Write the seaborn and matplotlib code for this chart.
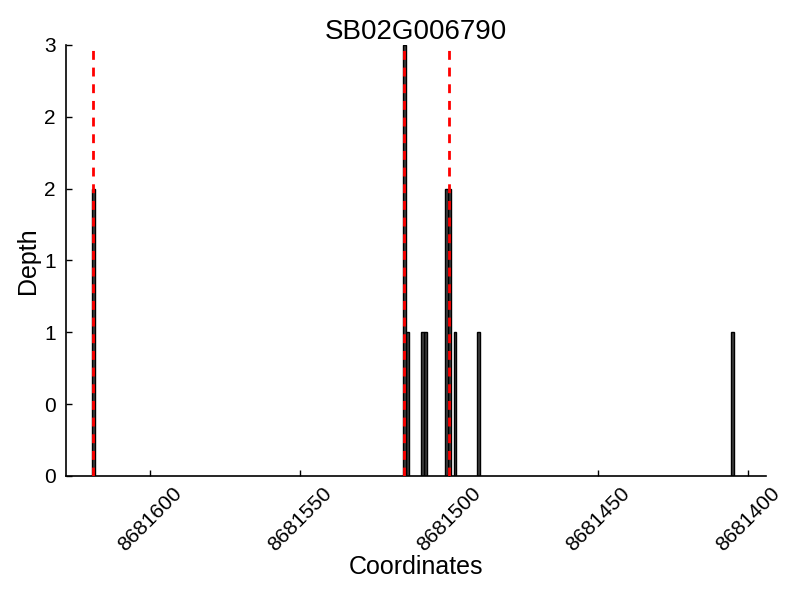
import matplotlib
matplotlib.use("Agg")
import matplotlib.pyplot as plt
import matplotlib.ticker as mticker
import seaborn as sns
import pandas as pd

# Data
coordinates = [8681619, 8681515, 8681514, 8681509, 8681508, 8681501, 8681500, 8681498, 8681490, 8681405]
depths = [2, 3, 1, 1, 1, 2, 2, 1, 1, 1]
marker_positions = [8681619, 8681515, 8681500]
title = "SB02G006790"
y_ticks = [0, 0.5, 1, 1.5, 2, 2.5, 3]
x_ticks = [8681600, 8681550, 8681500, 8681450, 8681400]

sns.set_style("ticks")
plt.rcParams['font.family'] = ['Liberation Sans', 'DejaVu Sans']

df = pd.DataFrame({"Coordinates": coordinates, "Depth": depths})

fig = plt.figure(figsize=(8, 6), dpi=100)
ax = fig.add_axes([0.082, 0.207, 0.876, 0.718])

sns.barplot(data=df, x="Coordinates", y="Depth", native_scale=True, width=1.0,
            color="#404040", edgecolor="black", linewidth=1.0, saturation=1,
            ax=ax)

ax.vlines(marker_positions, 0, max(depths), colors="red", linewidth=2,
          linestyles=(0, (3.2, 2.8)), zorder=5)

ax.set_xlim(8681628.3, 8681393.8)
ax.set_ylim(0, 3)
ax.xaxis.set_major_locator(mticker.FixedLocator(x_ticks))
ax.xaxis.set_major_formatter(mticker.FormatStrFormatter('%d'))
ax.yaxis.set_major_locator(mticker.FixedLocator(y_ticks))
ax.yaxis.set_major_formatter(mticker.FuncFormatter(lambda v, p: "%d" % int(v)))

ax.tick_params(axis='both', direction='in', length=4, width=1, color='black',
               labelsize=15, labelcolor='black')
ax.tick_params(axis='y', pad=7)
ax.tick_params(axis='x', pad=6)
for lab in ax.get_xticklabels():
    lab.set_rotation(45)
    lab.set_ha('center')
    lab.set_va('top')
    lab.set_rotation_mode('default')

for s in ['top', 'right']:
    ax.spines[s].set_visible(False)
for s in ['left', 'bottom']:
    ax.spines[s].set_color('black')
    ax.spines[s].set_linewidth(1.2)

ax.set_xlabel("Coordinates", fontsize=18, color='black', labelpad=0)
ax.set_ylabel("Depth", fontsize=18, color='black', labelpad=3)
ax.set_title(title, fontsize=20, color='black', pad=3)

fig.savefig("out.png", dpi=100, facecolor='white')
